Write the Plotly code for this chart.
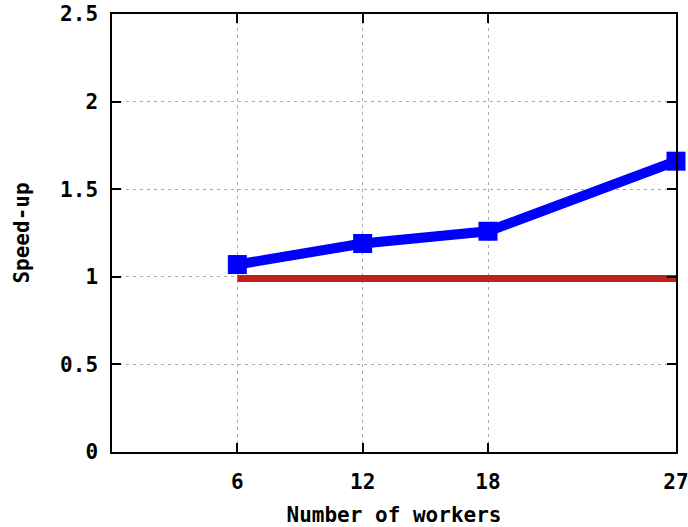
import plotly.graph_objects as go

workers = [6, 12, 18, 27]
speedup = [1.07, 1.19, 1.26, 1.66]
baseline = [0.99, 0.99, 0.99, 0.99]
x_ticks = [6, 12, 18, 27]
y_ticks = [0, 0.5, 1, 1.5, 2, 2.5]
y_tick_text = ["0", "0.5", "1", "1.5", "2", "2.5"]

FONT = "DejaVu Sans Mono"
FS = 21

fig = go.Figure()
fig.add_trace(go.Scatter(
    x=workers, y=baseline, mode="lines",
    line=dict(color="#c02020", width=7),
    showlegend=False, cliponaxis=False,
))
fig.add_trace(go.Scatter(
    x=workers, y=speedup, mode="lines+markers",
    line=dict(color="#0000ff", width=10),
    marker=dict(symbol="square", size=19, color="#0000ff"),
    showlegend=False, cliponaxis=False,
))

axis_common = dict(
    showline=True, linecolor="black", linewidth=1.5, mirror="ticks",
    ticks="inside", ticklen=9, tickwidth=1.5, tickcolor="black",
    showgrid=True, gridcolor="#a8a8a8", griddash="3px,4px", gridwidth=1,
    zeroline=False, automargin=False, ticklabeloverflow="allow",
    tickfont=dict(family=FONT, size=FS, color="black", weight="bold"),
)

fig.update_layout(
    width=688, height=527,
    paper_bgcolor="white", plot_bgcolor="white",
    margin=dict(l=112, r=12, t=14, b=75),
    font=dict(family=FONT, color="black"),
    xaxis=dict(
        range=[0, 27], tickvals=x_ticks,
        title=dict(text="Number of workers", standoff=20,
                   font=dict(family=FONT, size=FS, color="black", weight="bold")),
        ticklabelstandoff=10,
        **axis_common,
    ),
    yaxis=dict(
        range=[0, 2.5], tickvals=y_ticks, ticktext=y_tick_text,
        title=dict(text="Speed-up", standoff=25,
                   font=dict(family=FONT, size=FS, color="black", weight="bold")),
        ticklabelstandoff=8,
        **axis_common,
    ),
)

fig.write_html("out.html", config={"displayModeBar": False},
               post_script="document.body.style.margin='0';")
